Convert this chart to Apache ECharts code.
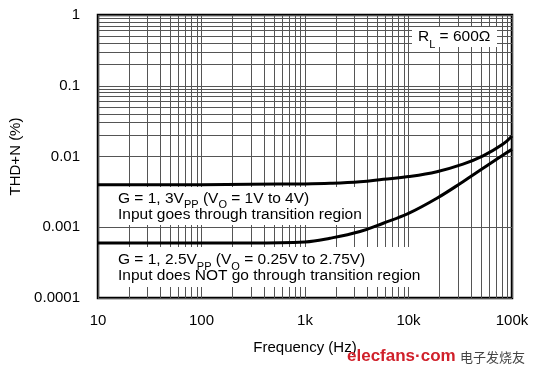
<!DOCTYPE html>
<html>
<head>
<meta charset="utf-8">
<script src="https://cdn.jsdelivr.net/npm/echarts@6/dist/echarts.min.js"></script>
<style>
  html, body { margin: 0; padding: 0; background: #fff; }
  #chart { width: 550px; height: 378px; }
</style>
</head>
<body>
<div id="chart"></div>
<script>
// frequency points (Hz)
const freqs = [10, 100, 300, 1000, 1750, 3400, 5700, 10000, 18800, 33600, 52500, 82000, 100000];
// G = 1, 3Vpp
const thd3Vpp = [0.004, 0.004, 0.00405, 0.0041, 0.00418, 0.0044, 0.00476, 0.0052, 0.0061, 0.0078, 0.0102, 0.015, 0.0195];
// G = 1, 2.5Vpp
const thd25Vpp = [0.0006, 0.0006, 0.0006, 0.00062, 0.0007, 0.00087, 0.00114, 0.00157, 0.00257, 0.0044, 0.0068, 0.0105, 0.0126];

const xTickLabels = { 10: '10', 100: '100', 1000: '1k', 10000: '10k', 100000: '100k' };
const yTickLabels = ['0.0001', '0.001', '0.01', '0.1', '1'];

// minor grid positions (2..9 in every decade)
const xDecades = [10, 100, 1000, 10000];
const yDecades = [0.0001, 0.001, 0.01, 0.1];
const mult = [2, 3, 4, 5, 6, 7, 8, 9];
const xMinor = [];
xDecades.forEach(d => mult.forEach(m => xMinor.push(d * m)));
const yMinor = [];
yDecades.forEach(d => mult.forEach(m => yMinor.push(+(d * m).toPrecision(3))));

const FONT = '"Liberation Sans", Arial, Helvetica, sans-serif';
const gridColor = '#555';

const chart = echarts.init(document.getElementById('chart'));

const subRich = {
  sub: { fontSize: 11, verticalAlign: 'bottom', fontFamily: FONT, fill: '#000', padding: [0, 0, -4, 0] }
};

// white box behind an annotation, so the grid does not run through the text
function box(x, y, w, h) {
  return { type: 'rect', zlevel: 1, z: 1, silent: true, shape: { x: x, y: y, width: w, height: h }, style: { fill: '#fff' } };
}

chart.setOption({
  animation: false,
  backgroundColor: '#fff',
  grid: {
    left: 98, top: 15, right: 38, bottom: 80,
    show: true, borderColor: '#000', borderWidth: 2.5, backgroundColor: 'transparent'
  },
  xAxis: {
    type: 'log', logBase: 10, min: 10, max: 100000,
    name: 'Frequency (Hz)', nameLocation: 'middle', nameGap: 42,
    nameTextStyle: { fontFamily: FONT, fontSize: 15, color: '#000' },
    axisLine: { show: false },
    axisTick: { show: false },
    axisLabel: {
      fontFamily: FONT, fontSize: 15, color: '#000', margin: 15,
      formatter: v => xTickLabels[Math.round(v)] || ''
    },
    splitLine: { show: true, lineStyle: { color: gridColor, width: 1 } }
  },
  yAxis: {
    type: 'log', logBase: 10, min: 0.0001, max: 1,
    name: 'THD+N (%)', nameLocation: 'middle', nameGap: 66, nameRotate: 90,
    nameTextStyle: { fontFamily: FONT, fontSize: 15, color: '#000' },
    axisLine: { show: false },
    axisTick: { show: false },
    axisLabel: {
      fontFamily: FONT, fontSize: 15, color: '#000', margin: 18,
      formatter: v => {
        const s = String(Number(v.toPrecision(3)));
        return yTickLabels.indexOf(s) >= 0 ? s : '';
      }
    },
    splitLine: { show: true, lineStyle: { color: gridColor, width: 1 } }
  },
  graphic: {
    elements: [
      box(412, 27, 85, 20),
      box(112, 187, 253, 38),
      box(112, 247, 314, 40),
      {
        type: 'text', left: 418, top: 28, zlevel: 1, z: 5,
        style: {
          text: 'R{sub|L} = 600Ω',
          rich: subRich,
          fontFamily: FONT, fontSize: 15.5, fill: '#000', lineHeight: 18
        }
      },
      {
        type: 'text', left: 118, top: 190, zlevel: 1, z: 5,
        style: {
          text: 'G = 1, 3V{sub|PP} (V{sub|O} = 1V to 4V)\nInput goes through transition region',
          rich: subRich,
          fontFamily: FONT, fontSize: 15.5, fill: '#000', lineHeight: 16.5
        }
      },
      {
        type: 'text', left: 118, top: 252, zlevel: 1, z: 5,
        style: {
          text: 'G = 1, 2.5V{sub|PP} (V{sub|O} = 0.25V to 2.75V)\nInput does NOT go through transition region',
          rich: subRich,
          fontFamily: FONT, fontSize: 15.5, fill: '#000', lineHeight: 16
        }
      },
      {
        type: 'text', left: 347, top: 348, zlevel: 1, z: 5,
        style: { text: 'elecfans·com', fontFamily: FONT, fontSize: 17, fontWeight: 'bold', fill: '#d0202a' }
      },
      {
        type: 'text', left: 460, top: 351, zlevel: 1, z: 5,
        style: { text: '电子发烧友', fontFamily: '"Noto Sans CJK SC", sans-serif', fontSize: 13, fill: '#444' }
      }
    ]
  },
  series: [
    {
      // minor grid lines
      type: 'line', data: [], z: 1, silent: true,
      markLine: {
        silent: true, symbol: 'none', animation: false,
        label: { show: false },
        lineStyle: { color: gridColor, width: 1, type: 'solid' },
        data: xMinor.map(v => ({ xAxis: v })).concat(yMinor.map(v => ({ yAxis: v })))
      }
    },
    {
      name: '3Vpp', type: 'line', zlevel: 2, smooth: 0.4, symbol: 'none',
      lineStyle: { color: '#000', width: 3 },
      data: freqs.map((f, i) => [f, thd3Vpp[i]])
    },
    {
      name: '2.5Vpp', type: 'line', zlevel: 2, smooth: 0.4, symbol: 'none',
      lineStyle: { color: '#000', width: 3 },
      data: freqs.map((f, i) => [f, thd25Vpp[i]])
    }
  ]
});
</script>
</body>
</html>
